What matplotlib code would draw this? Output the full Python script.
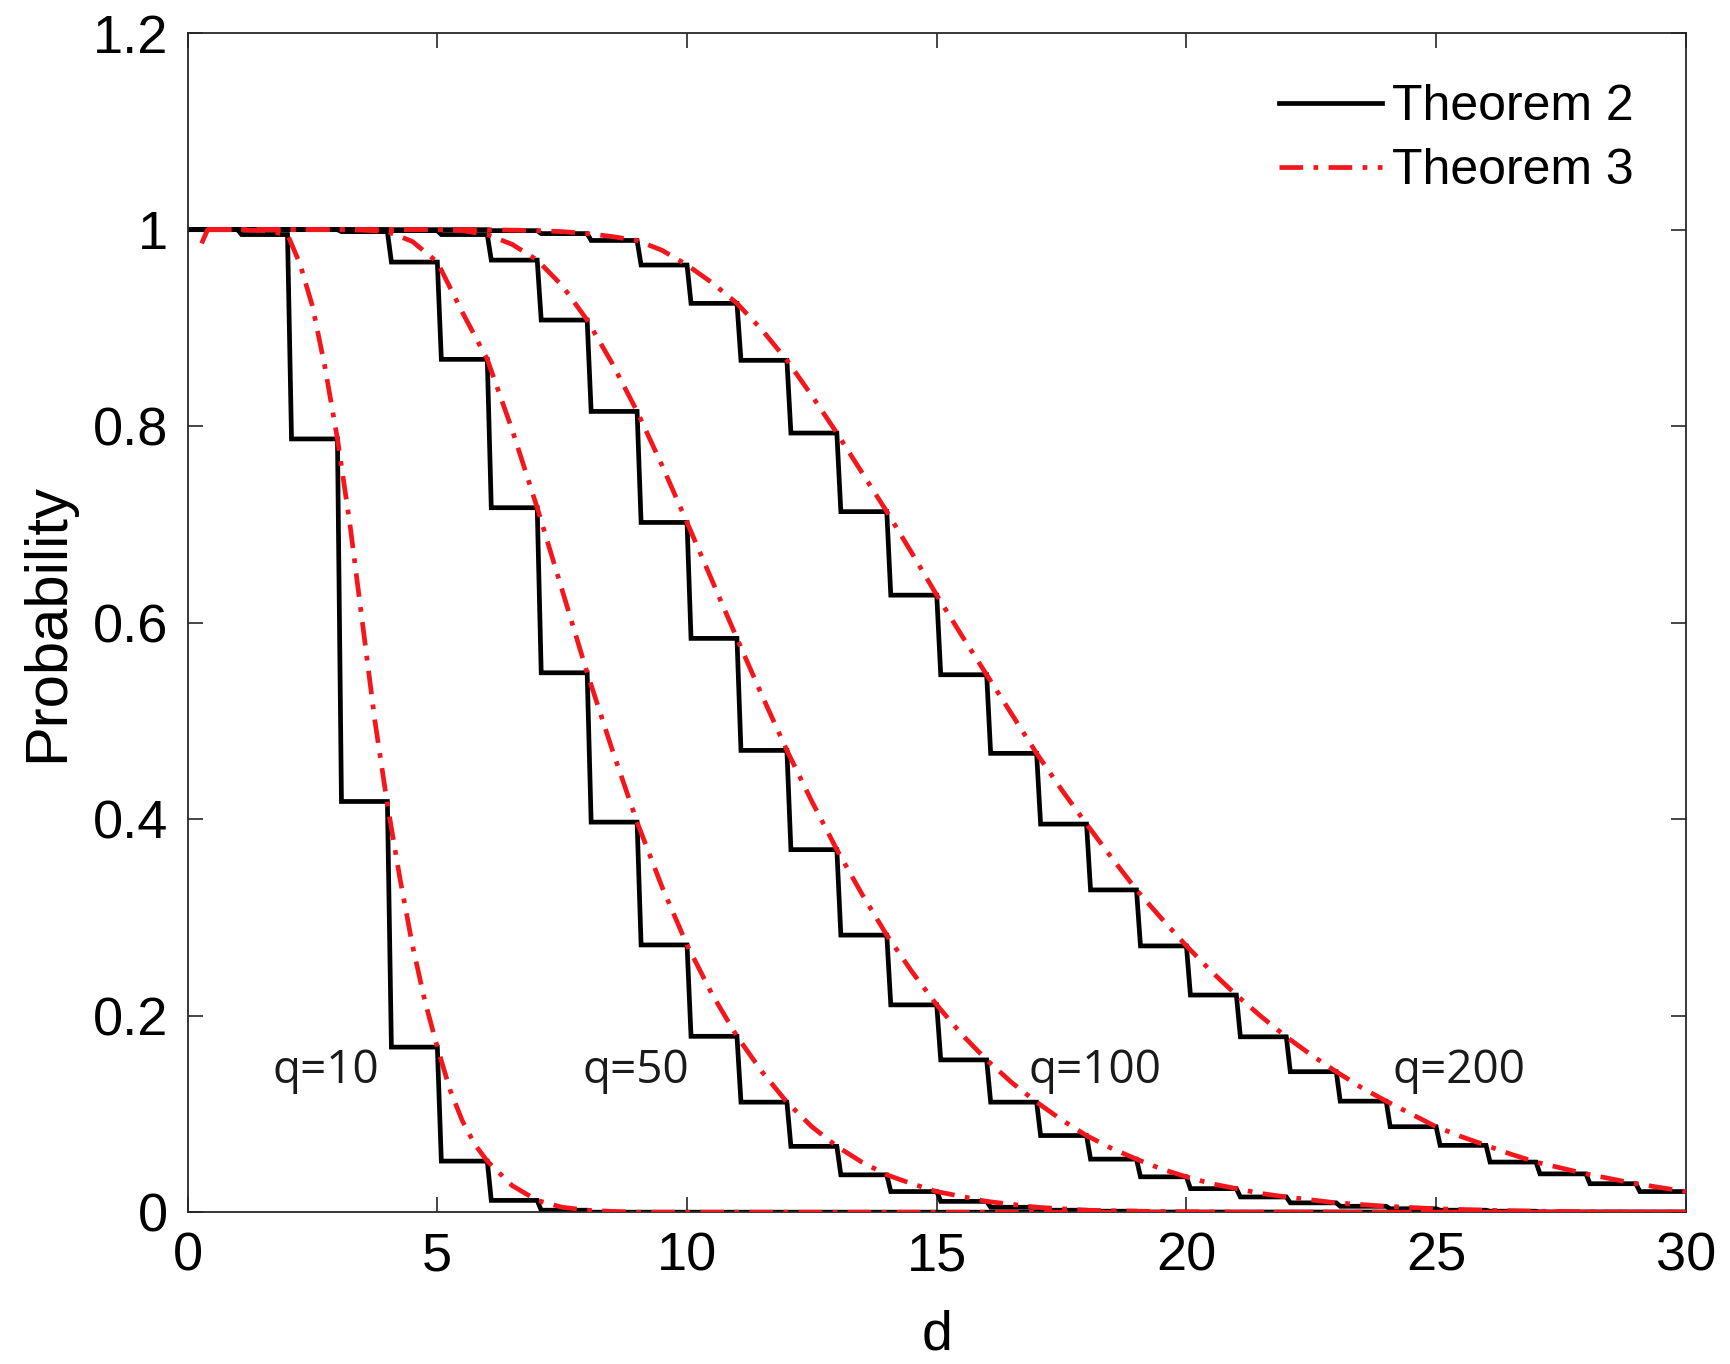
import numpy as np
import matplotlib
matplotlib.use("Agg")
import matplotlib.pyplot as plt
from matplotlib.lines import Line2D
from matplotlib.ticker import FormatStrFormatter

# ---------------------------------------------------------------------------
# Theorem 2: exact probability, constant on each interval [d, d+1), d = 0..29
# ---------------------------------------------------------------------------
d_left = np.arange(0, 30)

thm2_q10 = [1.0, 0.995, 0.787, 0.418, 0.168, 0.052, 0.012, 0.002, 0.0, 0.0,
            0.0, 0.0, 0.0, 0.0, 0.0, 0.0, 0.0, 0.0, 0.0, 0.0,
            0.0, 0.0, 0.0, 0.0, 0.0, 0.0, 0.0, 0.0, 0.0, 0.0]
thm2_q50 = [1.0, 1.0, 1.0, 0.998, 0.967, 0.868, 0.717, 0.549, 0.397, 0.272,
            0.179, 0.112, 0.067, 0.038, 0.021, 0.011, 0.005, 0.002, 0.001, 0.0,
            0.0, 0.0, 0.0, 0.0, 0.0, 0.0, 0.0, 0.0, 0.0, 0.0]
thm2_q100 = [1.0, 1.0, 1.0, 1.0, 0.999, 0.995, 0.969, 0.908, 0.815, 0.702,
             0.584, 0.470, 0.369, 0.282, 0.211, 0.155, 0.112, 0.078, 0.054, 0.036,
             0.024, 0.0155, 0.0095, 0.006, 0.0035, 0.002, 0.001, 0.0, 0.0, 0.0]
thm2_q200 = [1.0, 1.0, 1.0, 1.0, 1.0, 1.0, 0.999, 0.996, 0.989, 0.964,
             0.925, 0.867, 0.793, 0.713, 0.628, 0.547, 0.467, 0.395, 0.328, 0.271,
             0.221, 0.1785, 0.143, 0.113, 0.087, 0.068, 0.051, 0.039, 0.029, 0.021]

# ---------------------------------------------------------------------------
# Theorem 3: smooth approximation
# ---------------------------------------------------------------------------
thm3_q10_d = [0.28, 0.4, 1.0, 1.5, 2.0, 2.25, 2.5, 2.75, 3.0, 3.25, 3.5, 3.75,
              4.0, 4.25, 4.5, 4.75, 5.0, 5.25, 5.5, 5.75, 6.0, 6.5, 7.0, 7.5,
              8.0, 8.5, 9.0, 30.0]
thm3_q10_p = [0.986, 1.0, 1.0, 0.999, 0.995, 0.965, 0.922, 0.860, 0.787, 0.700,
              0.600, 0.500, 0.415, 0.340, 0.272, 0.215, 0.168, 0.125, 0.093, 0.069,
              0.052, 0.027, 0.012, 0.005, 0.002, 0.0008, 0.0, 0.0]

thm3_q50_d = [0.4, 3.0, 3.5, 4.0, 4.5, 5.0, 5.5, 6.0, 6.5, 7.0, 7.5, 8.0, 8.5,
              9.0, 9.5, 10.0, 10.5, 11.0, 11.5, 12.0, 12.5, 13.0, 13.5, 14.0,
              14.5, 15.0, 15.5, 16.0, 17.0, 18.0, 19.0, 20.0, 21.0, 30.0]
thm3_q50_p = [1.0, 1.0, 0.9995, 0.998, 0.988, 0.967, 0.916, 0.868, 0.796, 0.717,
              0.633, 0.549, 0.471, 0.397, 0.331, 0.272, 0.222, 0.179, 0.143, 0.112,
              0.087, 0.067, 0.051, 0.038, 0.029, 0.021, 0.016, 0.011, 0.005, 0.002,
              0.001, 0.0004, 0.0, 0.0]

thm3_q100_d = [0.4, 5.0, 5.5, 6.0, 6.5, 7.0, 7.5, 8.0, 8.5, 9.0, 9.5, 10.0,
               10.5, 11.0, 11.5, 12.0, 12.5, 13.0, 13.5, 14.0, 14.5, 15.0, 15.5,
               16.0, 16.5, 17.0, 17.5, 18.0, 18.5, 19.0, 19.5, 20.0, 20.5, 21.0,
               21.5, 22.0, 23.0, 24.0, 25.0, 26.0, 27.0, 28.0, 29.0, 30.0]
thm3_q100_p = [1.0, 1.0, 0.999, 0.995, 0.985, 0.969, 0.943, 0.908, 0.864, 0.815,
               0.760, 0.702, 0.643, 0.584, 0.526, 0.470, 0.418, 0.369, 0.324, 0.282,
               0.245, 0.211, 0.181, 0.155, 0.132, 0.112, 0.094, 0.078, 0.065, 0.054,
               0.044, 0.036, 0.029, 0.024, 0.019, 0.0155, 0.0095, 0.006, 0.0035, 0.002,
               0.001, 0.0005, 0.0, 0.0]

thm3_q200_d = [0.4, 6.0, 7.0, 7.5, 8.0, 8.5, 9.0, 9.5, 10.0, 10.5, 11.0, 11.5,
               12.0, 12.5, 13.0, 13.5, 14.0, 14.5, 15.0, 15.5, 16.0, 16.5, 17.0,
               17.5, 18.0, 18.5, 19.0, 19.5, 20.0, 20.5, 21.0, 21.5, 22.0, 22.5,
               23.0, 23.5, 24.0, 24.5, 25.0, 25.5, 26.0, 26.5, 27.0, 27.5, 28.0,
               28.5, 29.0, 29.5, 30.0]
thm3_q200_p = [1.0, 1.0, 0.999, 0.998, 0.996, 0.993, 0.989, 0.979, 0.964, 0.946,
               0.925, 0.898, 0.867, 0.831, 0.793, 0.753, 0.713, 0.671, 0.628, 0.587,
               0.547, 0.507, 0.467, 0.430, 0.395, 0.361, 0.328, 0.299, 0.271, 0.245,
               0.221, 0.199, 0.1785, 0.160, 0.143, 0.127, 0.113, 0.100, 0.087, 0.077,
               0.068, 0.059, 0.051, 0.045, 0.039, 0.034, 0.029, 0.025, 0.021]

curve_labels = ["q=10", "q=50", "q=100", "q=200"]
label_d = [2.77, 8.98, 18.17, 25.45]
label_p = [0.144, 0.144, 0.144, 0.144]

x_ticks = [0, 5, 10, 15, 20, 25, 30]
y_ticks = [0, 0.2, 0.4, 0.6, 0.8, 1.0, 1.2]

# ---------------------------------------------------------------------------
SANS = ["Liberation Sans", "DejaVu Sans"]
LABEL_FONT = ["Open Sans", "DejaVu Sans"]
RED = "#f5161c"
AXIS_GRAY = "#262626"
DROP = 0.08  # horizontal run of each step's falling edge
DASHDOT = (0, (5, 2.2, 1.0, 2.2))


def staircase(levels):
    """Polyline for a piecewise-constant series defined on [d, d+1)."""
    xs, ys = [d_left[0]], [levels[0]]
    for k in range(1, len(levels)):
        xs += [d_left[k], d_left[k] + DROP]
        ys += [levels[k - 1], levels[k]]
    xs.append(d_left[-1] + 1)
    ys.append(levels[-1])
    return xs, ys


fig = plt.figure(figsize=(17.31, 13.64), dpi=100)
ax = fig.add_axes([0.1084, 0.1113, 0.8655, 0.8644])

for levels in (thm2_q10, thm2_q50, thm2_q100, thm2_q200):
    xs, ys = staircase(levels)
    ax.plot(xs, ys, color="black", lw=3.4, solid_joinstyle="miter", zorder=2)

for dd, pp in ((thm3_q10_d, thm3_q10_p), (thm3_q50_d, thm3_q50_p),
               (thm3_q100_d, thm3_q100_p), (thm3_q200_d, thm3_q200_p)):
    ax.plot(dd, pp, color=RED, lw=3.4, linestyle=DASHDOT, zorder=3)

for txt, xd, yp in zip(curve_labels, label_d, label_p):
    ax.text(xd, yp, txt, ha="center", va="center", fontsize=33,
            family=LABEL_FONT, color="#1a1a1a", zorder=4)

ax.set_xlim(0, 30)
ax.set_ylim(0, 1.2)
ax.set_xticks(x_ticks)
ax.set_yticks(y_ticks)
ax.yaxis.set_major_formatter(FormatStrFormatter("%g"))
ax.tick_params(direction="in", length=11, width=1.2, color=AXIS_GRAY,
               top=True, right=True, labelsize=39, pad=14)
for lab in ax.get_xticklabels() + ax.get_yticklabels():
    lab.set_family(SANS)
for sp in ax.spines.values():
    sp.set_color(AXIS_GRAY)
    sp.set_linewidth(1.3)

ax.set_xlabel("d", fontsize=40, family=SANS, labelpad=20)
ax.set_ylabel("Probability", fontsize=43, family=SANS, labelpad=13)

handles = [Line2D([], [], color="black", lw=3.4),
           Line2D([], [], color=RED, lw=3.4, linestyle=DASHDOT)]
ax.legend(handles, ["Theorem 2", "Theorem 3"], loc="upper right",
          bbox_to_anchor=(0.985, 0.982), frameon=False,
          prop={"family": SANS, "size": 36}, handlelength=2.05,
          handletextpad=0.2, labelspacing=0.36, borderaxespad=0.2)

fig.savefig("out.png", dpi=100, facecolor="white")
